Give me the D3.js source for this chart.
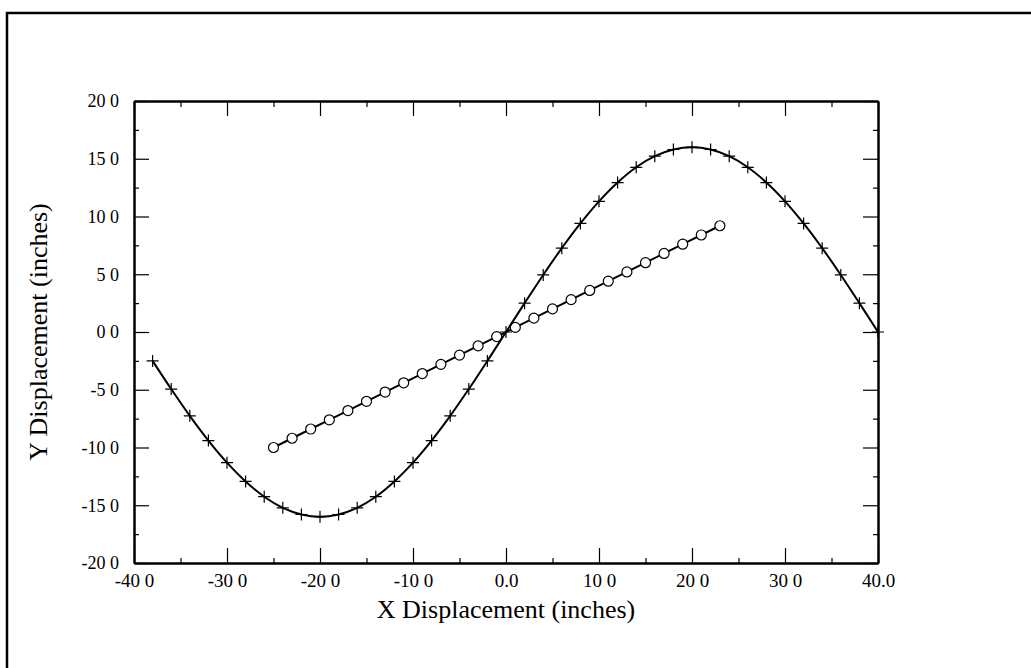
<!DOCTYPE html>
<html>
<head>
<meta charset="utf-8">
<script src="https://cdn.jsdelivr.net/npm/d3@7"></script>
<style>
    body { margin: 0; background: #fff; }
    svg text { font-family: "Liberation Serif", "Times New Roman", serif; fill: #000; }
    .axis path, .axis line { stroke: #000; }
</style>
</head>
<body>
<div id="chart"></div>
<script>

// sine-like path (plus markers)
var sineX = [-38, -36, -34, -32, -30, -28, -26, -24, -22, -20, -18, -16, -14, -12, -10, -8, -6, -4, -2, 0,
    2, 4, 6, 8, 10, 12, 14, 16, 18, 20, 22, 24, 26, 28, 30, 32, 34, 36, 38, 40];
var sineY = [-2.50, -4.94, -7.26, -9.40, -11.31, -12.94, -14.26, -15.22, -15.80, -16.00, -15.80, -15.22, -14.26, -12.94, -11.31, -9.40, -7.26, -4.94, -2.50, 0.00,
    2.50, 4.94, 7.26, 9.40, 11.31, 12.94, 14.26, 15.22, 15.80, 16.00, 15.80, 15.22, 14.26, 12.94, 11.31, 9.40, 7.26, 4.94, 2.50, 0.00];

// straight path (circle markers)
var lineX = [-25, -23, -21, -19, -17, -15, -13, -11, -9, -7, -5, -3, -1, 1, 3, 5, 7, 9, 11, 13, 15, 17, 19, 21, 23];
var lineY = [-10.0, -9.2, -8.4, -7.6, -6.8, -6.0, -5.2, -4.4, -3.6, -2.8, -2.0, -1.2, -0.4, 0.4, 1.2, 2.0, 2.8, 3.6, 4.4, 5.2, 6.0, 6.8, 7.6, 8.4, 9.2];

var xTicks = [-40, -30, -20, -10, 0, 10, 20, 30, 40];
var xTickLabels = ["-40 0", "-30 0", "-20 0", "-10 0", "0.0", "10 0", "20 0", "30 0", "40.0"];
var xMinorTicks = [-35, -25, -15, -5, 5, 15, 25, 35];
var yTicks = [20, 15, 10, 5, 0, -5, -10, -15, -20];
var yTickLabels = ["20 0", "15 0", "10 0", "5 0", "0 0", "-5 0", "-10 0", "-15 0", "-20 0"];
var yMinorTicks = [17.5, 12.5, 7.5, 2.5, -2.5, -7.5, -12.5, -17.5];

DisplacementChart = function(_parentElement) {
    this.parentElement = _parentElement;
    this.initVis();
};

DisplacementChart.prototype.initVis = function() {
    var vis = this;

    vis.svgWidth = 1031;
    vis.svgHeight = 668;
    vis.margin = {top: 101, right: 153, bottom: 105, left: 134};
    vis.width = vis.svgWidth - vis.margin.left - vis.margin.right;
    vis.height = vis.svgHeight - vis.margin.top - vis.margin.bottom;

    vis.svg = d3.select(vis.parentElement)
        .append("svg")
        .attr("width", vis.svgWidth)
        .attr("height", vis.svgHeight);

    // page frame (left and top edges of the scanned sheet)
    vis.svg.append("path")
        .attr("d", "M7,668 V13 H1031")
        .attr("fill", "none")
        .attr("stroke", "#000")
        .attr("stroke-width", 2.5);

    vis.chart = vis.svg.append("g")
        .attr("transform", "translate(" + vis.margin.left + "," + vis.margin.top + ")");

    vis.x = d3.scaleLinear()
        .domain([-40, 40])
        .range([0, vis.width]);

    vis.y = d3.scaleLinear()
        .domain([-20, 20])
        .range([vis.height, 0]);

    vis.updateVis();
};

DisplacementChart.prototype.updateVis = function() {
    var vis = this;

    var xFmt = function(d) { return xTickLabels[xTicks.indexOf(d)]; };
    var yFmt = function(d) { return yTickLabels[yTicks.indexOf(d)]; };

    // major + minor ticks, all pointing inwards
    var bottom = vis.chart.append("g")
        .attr("class", "axis")
        .attr("transform", "translate(0," + vis.height + ")")
        .call(d3.axisBottom(vis.x).tickValues(xTicks).tickFormat(xFmt).tickSize(-15).tickSizeOuter(0).tickPadding(11));
    bottom.selectAll("text").style("font-size", "19px");

    vis.chart.append("g")
        .attr("class", "axis")
        .attr("transform", "translate(0," + vis.height + ")")
        .call(d3.axisBottom(vis.x).tickValues(xMinorTicks).tickFormat("").tickSize(-5).tickSizeOuter(0));

    vis.chart.append("g")
        .attr("class", "axis")
        .call(d3.axisTop(vis.x).tickValues(xTicks).tickFormat("").tickSize(-15).tickSizeOuter(0));

    vis.chart.append("g")
        .attr("class", "axis")
        .call(d3.axisTop(vis.x).tickValues(xMinorTicks).tickFormat("").tickSize(-6).tickSizeOuter(0));

    var left = vis.chart.append("g")
        .attr("class", "axis")
        .call(d3.axisLeft(vis.y).tickValues(yTicks).tickFormat(yFmt).tickSize(-15).tickSizeOuter(0).tickPadding(15));
    left.selectAll("text").style("font-size", "18px");

    vis.chart.append("g")
        .attr("class", "axis")
        .call(d3.axisLeft(vis.y).tickValues(yMinorTicks).tickFormat("").tickSize(-5).tickSizeOuter(0));

    vis.chart.append("g")
        .attr("class", "axis")
        .attr("transform", "translate(" + vis.width + ",0)")
        .call(d3.axisRight(vis.y).tickValues(yTicks).tickFormat("").tickSize(-15).tickSizeOuter(0));

    vis.chart.append("g")
        .attr("class", "axis")
        .attr("transform", "translate(" + vis.width + ",0)")
        .call(d3.axisRight(vis.y).tickValues(yMinorTicks).tickFormat("").tickSize(-5).tickSizeOuter(0));

    vis.chart.selectAll(".axis line").attr("stroke-width", 1.2);
    vis.chart.selectAll(".axis path").attr("stroke-width", 2);

    // straight series with open circles
    var lineData = lineX.map(function(d, i) { return {x: d, y: lineY[i]}; });
    var sineData = sineX.map(function(d, i) { return {x: d, y: sineY[i]}; });

    var line = d3.line()
        .x(function(d) { return vis.x(d.x); })
        .y(function(d) { return vis.y(d.y); });

    vis.chart.append("path")
        .datum(lineData)
        .attr("fill", "none")
        .attr("stroke", "#000")
        .attr("stroke-width", 2)
        .attr("d", line);

    vis.chart.selectAll(".circ")
        .data(lineData)
        .enter().append("circle")
        .attr("class", "circ")
        .attr("cx", function(d) { return vis.x(d.x); })
        .attr("cy", function(d) { return vis.y(d.y); })
        .attr("r", 5)
        .attr("fill", "#fff")
        .attr("stroke", "#000")
        .attr("stroke-width", 1.2);

    // sine series with plus markers
    vis.chart.append("path")
        .datum(sineData)
        .attr("fill", "none")
        .attr("stroke", "#000")
        .attr("stroke-width", 2)
        .attr("d", line.curve(d3.curveCatmullRom));

    vis.chart.selectAll(".plus")
        .data(sineData)
        .enter().append("path")
        .attr("class", "plus")
        .attr("transform", function(d) { return "translate(" + vis.x(d.x) + "," + vis.y(d.y) + ")"; })
        .attr("d", "M-6,0H6M0,-6V6")
        .attr("stroke", "#000")
        .attr("stroke-width", 1.2);

    // axis titles
    vis.svg.append("text")
        .attr("x", vis.margin.left + vis.width / 2)
        .attr("y", 618)
        .style("text-anchor", "middle")
        .style("font-size", "26px")
        .text("X Displacement (inches)");

    vis.svg.append("text")
        .attr("transform", "translate(47," + (vis.margin.top + vis.height / 2) + ") rotate(-90)")
        .style("text-anchor", "middle")
        .style("font-size", "26px")
        .text("Y Displacement (inches)");
};

var chart = new DisplacementChart("#chart");

</script>
</body>
</html>
